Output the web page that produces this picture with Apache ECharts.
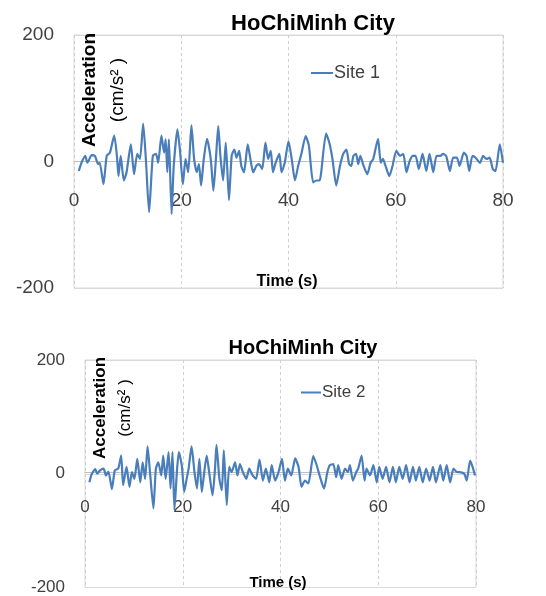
<!DOCTYPE html>
<html>
<head>
<meta charset="utf-8">
<script src="https://cdn.jsdelivr.net/npm/echarts@6/dist/echarts.min.js"></script>
<style>
html,body{margin:0;padding:0;background:#fff;}
#chart{width:546px;height:596px;}
</style>
</head>
<body>
<div id="chart"></div>
<script>
// ---- data ----
var chartTitle = 'HoChiMinh City';
var seriesNames = ['Site 1', 'Site 2'];
var xTicks = [0, 20, 40, 60, 80];
var yTicks = [-200, 0, 200];
// [time (s), acceleration (cm/s²)]
var site1Data = [[0.9,-15],[1.4,-2],[2.1,9],[2.5,-2],[3.3,10],[3.9,9],[4.5,-4],[4.8,-2],[5.5,-36],[6.1,9],[6.7,14],[7.5,41],[8.0,9],[8.3,-23],[8.7,9],[9.3,-30],[9.8,-17],[10.6,27],[11.2,-20],[11.8,12],[12.3,4],[12.9,60],[13.4,4],[14.0,-80],[14.7,9],[15.3,12],[15.7,-2],[16.3,41],[16.8,14],[17.1,35],[17.4,-17],[17.7,35],[18.2,-83],[18.6,-7],[19.3,51],[19.8,14],[20.3,-36],[20.8,4],[21.3,-17],[21.9,57],[22.4,4],[22.9,-17],[23.3,-4],[23.7,-38],[24.2,4],[24.8,36],[25.5,4],[26.0,-46],[26.5,9],[26.9,56],[27.3,9],[27.8,-30],[28.3,30],[28.9,-61],[29.4,9],[29.9,19],[30.3,6],[30.8,17],[31.2,-7],[31.7,-17],[32.4,27],[32.9,4],[33.4,-17],[34.0,-7],[34.5,-4],[35.1,-12],[35.7,30],[36.2,4],[36.7,17],[37.1,-17],[37.6,-2],[38.3,12],[38.7,-17],[39.3,-2],[40.0,32],[40.6,4],[41.2,-30],[41.8,-7],[42.4,12],[43.2,40],[43.8,25],[44.6,-33],[45.2,-30],[45.8,-30],[46.1,-17],[47.0,44],[47.6,30],[48.2,4],[48.9,-38],[49.6,-7],[50.2,12],[50.8,19],[51.3,-4],[51.7,-7],[52.1,9],[52.6,12],[53.0,-4],[53.4,9],[54.0,-7],[54.7,-20],[55.3,-2],[55.8,4],[56.7,36],[57.2,-2],[57.6,4],[58.1,-7],[58.8,-23],[59.4,-7],[60.1,17],[60.8,9],[61.4,12],[62.0,-17],[62.6,1],[63.2,9],[63.7,9],[64.3,-12],[65.0,12],[65.7,-15],[66.3,12],[67.0,-17],[67.6,9],[68.3,9],[68.8,12],[69.4,9],[70.1,-15],[70.7,6],[71.4,6],[71.9,-7],[72.7,14],[73.2,9],[73.7,-15],[74.3,9],[74.9,6],[75.7,-2],[76.3,9],[76.9,4],[77.5,6],[78.1,-12],[78.6,-15],[79.4,27],[80.0,-2]];
var site2Data = [[0.9,-15],[1.4,0],[2.1,8],[2.5,0],[3.1,6],[3.8,9],[4.3,-3],[4.8,4],[5.5,-27],[6.1,6],[6.8,9],[7.4,32],[7.8,-20],[8.5,12],[9.1,-23],[9.6,3],[10.1,-9],[10.7,26],[11.3,-15],[11.8,20],[12.3,-9],[12.8,48],[13.3,3],[14.0,-61],[14.5,9],[15.0,20],[15.6,-3],[16.0,32],[16.5,-9],[17.1,38],[17.5,-26],[17.9,38],[18.3,-64],[18.8,3],[19.2,38],[19.8,15],[20.3,-32],[20.8,-9],[21.2,9],[21.8,48],[22.4,3],[22.9,-26],[23.4,26],[23.9,-32],[24.4,3],[24.9,32],[25.4,3],[26.1,-38],[26.6,9],[26.9,51],[27.5,-9],[28.0,-29],[28.4,41],[29.0,-55],[29.5,12],[30.0,3],[30.7,20],[31.2,-3],[31.7,17],[32.3,3],[33.0,-9],[33.6,9],[34.3,-3],[35.0,-9],[35.7,25],[36.4,-12],[37.0,9],[37.7,-15],[38.2,15],[38.9,-12],[39.6,3],[40.3,26],[40.9,-12],[41.5,9],[42.2,-3],[43.0,27],[43.7,12],[44.3,-23],[45.0,-12],[45.7,-17],[46.7,31],[47.4,15],[48.1,-6],[48.9,-26],[49.6,3],[50.1,15],[50.8,17],[51.4,-6],[51.8,15],[52.5,-9],[53.2,9],[53.8,3],[54.2,15],[54.8,-12],[55.5,3],[55.9,9],[56.6,32],[57.2,-12],[57.6,9],[58.3,-3],[59.0,15],[59.7,-15],[60.2,12],[60.9,-9],[61.6,12],[62.3,-15],[63.0,12],[63.6,-15],[64.3,12],[65.0,-9],[65.7,15],[66.4,-15],[67.1,12],[67.7,-12],[68.4,12],[69.1,-15],[69.8,9],[70.5,-12],[71.2,12],[71.8,-15],[72.7,15],[73.3,-12],[74.0,15],[74.7,-15],[75.4,9],[76.1,3],[76.7,3],[77.6,0],[78.1,-12],[78.8,23],[79.3,12],[79.8,-3]];

// ---- chart ----
var FONT = "'Liberation Sans', Arial, sans-serif";
var LINE_COLOR = '#4a7ebb';
var TXT = '#404040';

// x axis is drawn at the y = 0 line (half the plot height above the bottom edge)
function xAxisCfg(gi, fs, margin, plotHeight) {
  return {
    type: 'value', gridIndex: gi, position: 'bottom',
    offset: -plotHeight / 2,
    min: xTicks[0], max: xTicks[xTicks.length - 1], interval: xTicks[1] - xTicks[0],
    axisLine: { show: true, onZero: false, lineStyle: { color: '#bfbfbf', width: 1 } },
    axisTick: { show: false },
    axisLabel: { color: TXT, fontSize: fs, fontFamily: FONT, margin: margin },
    splitLine: { show: true, lineStyle: { color: '#cfcfcf', type: [3, 3], width: 1 } }
  };
}
function yAxisCfg(gi, fs) {
  return {
    type: 'value', gridIndex: gi,
    min: yTicks[0], max: yTicks[yTicks.length - 1], interval: yTicks[1] - yTicks[0],
    axisLine: { show: false },
    axisTick: { show: false },
    axisLabel: { color: TXT, fontSize: fs, fontFamily: FONT, margin: 20 },
    splitLine: { show: true, lineStyle: { color: '#d9d9d9', width: 1 } }
  };
}

var chart = echarts.init(document.getElementById('chart'), null, { renderer: 'canvas' });
chart.setOption({
  animation: false,
  backgroundColor: '#ffffff',
  title: [
    { text: chartTitle, left: 308, top: 8, textAlign: 'center',
      textStyle: { fontFamily: FONT, fontWeight: 'bold', fontSize: 22, color: '#000' } },
    { text: chartTitle, left: 298, top: 333, textAlign: 'center',
      textStyle: { fontFamily: FONT, fontWeight: 'bold', fontSize: 20, color: '#000' } }
  ],
  legend: [
    { data: [seriesNames[0]], left: 306, top: 59, icon: 'rect', itemWidth: 22, itemHeight: 2, itemGap: 0,
      textStyle: { fontFamily: FONT, fontSize: 18, color: TXT, padding: [0, 0, 0, -4] } },
    { data: [seriesNames[1]], left: 296, top: 379, icon: 'rect', itemWidth: 20, itemHeight: 2, itemGap: 0,
      textStyle: { fontFamily: FONT, fontSize: 17, color: TXT, padding: [0, 0, 0, -4] } }
  ],
  grid: [
    { left: 74, top: 35, width: 429, height: 253, show: true, borderColor: '#d9d9d9', borderWidth: 1, containLabel: false },
    { left: 85, top: 360, width: 391, height: 230, show: true, borderColor: '#d9d9d9', borderWidth: 1, containLabel: false }
  ],
  xAxis: [xAxisCfg(0, 19, 30, 253), xAxisCfg(1, 17, 26, 230)],
  yAxis: [yAxisCfg(0, 19), yAxisCfg(1, 17)],
  series: [
    { name: seriesNames[0], type: 'line', xAxisIndex: 0, yAxisIndex: 0, data: site1Data,
      showSymbol: false, smooth: 0.2, lineStyle: { color: LINE_COLOR, width: 2.2 }, itemStyle: { color: LINE_COLOR } },
    { name: seriesNames[1], type: 'line', xAxisIndex: 1, yAxisIndex: 1, data: site2Data,
      showSymbol: false, smooth: 0.2, lineStyle: { color: LINE_COLOR, width: 2.2 }, itemStyle: { color: LINE_COLOR } }
  ],
  graphic: [
    { type: 'text', x: 90, y: 90, rotation: Math.PI / 2, silent: true, z: 10,
      style: { text: 'Acceleration', font: 'bold 19px ' + FONT, fill: '#000', textAlign: 'center', textVerticalAlign: 'middle' } },
    { type: 'text', x: 118, y: 90, rotation: Math.PI / 2, silent: true, z: 10,
      style: { text: '(cm/s² )', font: '19px ' + FONT, fill: '#000', textAlign: 'center', textVerticalAlign: 'middle' } },
    { type: 'text', x: 287, y: 282, silent: true, z: 10,
      style: { text: 'Time (s)', font: 'bold 16px ' + FONT, fill: '#000', textAlign: 'center', textVerticalAlign: 'middle' } },
    { type: 'text', x: 100, y: 408, rotation: Math.PI / 2, silent: true, z: 10,
      style: { text: 'Acceleration', font: 'bold 17px ' + FONT, fill: '#000', textAlign: 'center', textVerticalAlign: 'middle' } },
    { type: 'text', x: 125, y: 408, rotation: Math.PI / 2, silent: true, z: 10,
      style: { text: '(cm/s² )', font: '17px ' + FONT, fill: '#000', textAlign: 'center', textVerticalAlign: 'middle' } },
    { type: 'text', x: 278, y: 583, silent: true, z: 10,
      style: { text: 'Time (s)', font: 'bold 15px ' + FONT, fill: '#000', textAlign: 'center', textVerticalAlign: 'middle' } }
  ]
});
</script>
</body>
</html>
